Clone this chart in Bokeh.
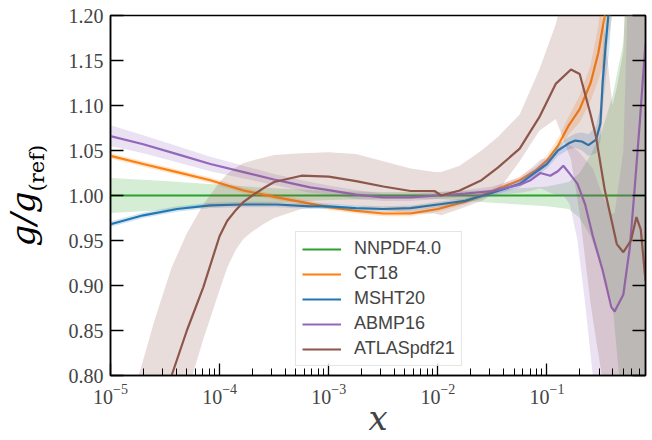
import math
from bokeh.plotting import figure
from bokeh.models import (Range1d, LogTicker, FixedTicker, PrintfTickFormatter, LinearAxis,
                          Legend, LegendItem, Title, ColumnDataSource, CustomJSTickFormatter)
from bokeh.embed import file_html
from bokeh.resources import INLINE

# ---------------- data (log10 x positions and ratios) ----------------
y_ticks = [0.80, 0.85, 0.90, 0.95, 1.00, 1.05, 1.10, 1.15, 1.20]

nn_logx = [-5, -4.5, -4, -3.5, -3, -2.5, -2, -1.5, -1.25, -1, -0.8, -0.7, -0.6, -0.5, -0.4, -0.3, -0.2, -0.097]
nn_y = [1.0] * 18
nn_lo = [0.9805, 0.984, 0.988, 0.992, 0.995, 0.996, 0.996, 0.992, 0.990, 0.988, 0.985, 0.975, 0.955, 0.92, 0.88, 0.75, 0.6, 0.5]
nn_hi = [1.0195, 1.016, 1.012, 1.008, 1.005, 1.004, 1.004, 1.006, 1.008, 1.01, 1.015, 1.025, 1.045, 1.07, 1.11, 1.17, 1.4, 1.5]

ct_logx = [-5, -4.7, -4.39, -4.085, -3.78, -3.475, -3.17, -3.0, -2.75, -2.5, -2.25, -2.0, -1.75, -1.5,
           -1.25, -1.1, -1.0, -0.9, -0.8, -0.7, -0.6, -0.53, -0.47, -0.4, -0.3, -0.2, -0.097]
ct_y = [1.044, 1.035, 1.026, 1.017, 1.0056, 0.998, 0.991, 0.987, 0.983, 0.980, 0.980, 0.985, 0.993, 1.005,
        1.017, 1.028, 1.039, 1.055, 1.078, 1.096, 1.125, 1.158, 1.20, 1.30, 1.5, 1.8, 2.2]
ct_err = [0.003, 0.003, 0.003, 0.003, 0.003, 0.003, 0.003, 0.003, 0.003, 0.003, 0.003, 0.003, 0.003, 0.003,
          0.004, 0.005, 0.006, 0.008, 0.01, 0.015, 0.02, 0.03, 0.05, 0.1, 0.2, 0.6, 0.9]

ms_logx = [-5, -4.7, -4.39, -4.085, -3.78, -3.475, -3.17, -3.0, -2.75, -2.5, -2.25, -2.0, -1.75, -1.5,
           -1.25, -1.0, -0.9, -0.8, -0.74, -0.68, -0.62, -0.55, -0.51, -0.49, -0.46, -0.43, -0.38, -0.3, -0.2, -0.097]
ms_y = [0.968, 0.978, 0.985, 0.989, 0.990, 0.990, 0.988, 0.988, 0.986, 0.985, 0.986, 0.990, 0.994, 1.003,
        1.013, 1.035, 1.050, 1.058, 1.061, 1.060, 1.056, 1.062, 1.08, 1.125, 1.17, 1.21, 1.35, 1.5, 1.8, 2.2]
ms_err = [0.003, 0.003, 0.003, 0.003, 0.003, 0.003, 0.003, 0.003, 0.003, 0.003, 0.003, 0.003, 0.003, 0.003,
          0.004, 0.005, 0.006, 0.007, 0.008, 0.01, 0.012, 0.015, 0.02, 0.03, 0.04, 0.05, 0.1, 0.2, 0.6, 0.9]

ab_logx = [-5, -4.7, -4.39, -4.085, -3.78, -3.475, -3.17, -3.0, -2.75, -2.5, -2.25, -2.0, -1.75, -1.5, -1.25,
           -1.15, -1.06, -0.97, -0.9, -0.85, -0.79, -0.72, -0.65, -0.58, -0.49, -0.41, -0.38, -0.30, -0.24,
           -0.2, -0.15, -0.097]
ab_y = [1.066, 1.057, 1.046, 1.035, 1.026, 1.017, 1.009, 1.006, 1.001, 0.998, 0.998, 1.000, 1.002, 1.005, 1.012,
        1.017, 1.025, 1.022, 1.027, 1.033, 1.024, 1.013, 0.990, 0.955, 0.917, 0.876, 0.871, 0.890, 0.943,
        1.002, 1.08, 1.17]
ab_lo = [1.055, 1.047, 1.037, 1.027, 1.019, 1.011, 1.003, 1.001, 0.996, 0.994, 0.994, 0.996, 0.998, 1.0, 1.003,
         1.005, 1.008, 1.003, 1.0, 1.0, 0.99, 0.95, 0.88, 0.80, 0.70, 0.65, 0.62, 0.6, 0.6,
         0.6, 0.6, 0.6]
ab_hi = [1.078, 1.067, 1.055, 1.043, 1.033, 1.023, 1.015, 1.011, 1.006, 1.002, 1.002, 1.004, 1.006, 1.01, 1.02,
         1.03, 1.04, 1.042, 1.05, 1.056, 1.056, 1.05, 1.04, 1.03, 1.0, 0.98, 0.98, 1.05, 1.3,
         1.4, 1.5, 1.5]

at_logx = [-5.0, -4.8, -4.6, -4.44, -4.3, -4.15, -4.0, -3.93, -3.85, -3.78, -3.7, -3.6, -3.5, -3.25, -3.0,
           -2.75, -2.5, -2.25, -2.03, -1.97, -1.8, -1.6, -1.45, -1.25, -1.07, -0.92, -0.78, -0.7, -0.6,
           -0.55, -0.47, -0.4, -0.36, -0.3, -0.23, -0.18, -0.14, -0.097]
at_y = [0.50, 0.62, 0.73, 0.80, 0.85, 0.898, 0.955, 0.972, 0.984, 0.993, 1.0, 1.008, 1.015, 1.022, 1.021,
        1.016, 1.010, 1.005, 1.005, 1.0, 1.0056, 1.017, 1.031, 1.052, 1.087, 1.124, 1.140, 1.135, 1.09,
        1.065, 1.006, 0.968, 0.946, 0.937, 0.95, 0.976, 0.962, 0.905]
at_lo = [0.38, 0.50, 0.62, 0.70, 0.78, 0.84, 0.895, 0.92, 0.94, 0.952, 0.96, 0.968, 0.975, 0.985, 0.99,
         0.988, 0.984, 0.98, 0.98, 0.978, 0.985, 0.994, 1.005, 1.038, 1.072, 1.085, 1.04, 0.98, 0.88,
         0.84, 0.78, 0.72, 0.68, 0.6, 0.6, 0.6, 0.6, 0.6]
at_hi = [0.68, 0.775, 0.86, 0.92, 0.958, 0.99, 1.015, 1.024, 1.031, 1.036, 1.039, 1.042, 1.045, 1.047, 1.048,
         1.046, 1.038, 1.03, 1.026, 1.026, 1.033, 1.05, 1.065, 1.09, 1.14, 1.19, 1.26, 1.3, 1.28,
         1.25, 1.18, 1.10, 1.12, 1.16, 1.4, 1.4, 1.4, 1.4]

series = [
    ("NNPDF4.0", "#2ca02c", nn_logx, nn_y, nn_lo, nn_hi),
    ("CT18", "#ff7f0e", ct_logx, ct_y, [a - e for a, e in zip(ct_y, ct_err)], [a + e for a, e in zip(ct_y, ct_err)]),
    ("MSHT20", "#1f77b4", ms_logx, ms_y, [a - e for a, e in zip(ms_y, ms_err)], [a + e for a, e in zip(ms_y, ms_err)]),
    ("ABMP16", "#9467bd", ab_logx, ab_y, ab_lo, ab_hi),
    ("ATLASpdf21", "#8c564b", at_logx, at_y, at_lo, at_hi),
]

# ---------------- figure ----------------
p = figure(width=652, height=440, x_axis_type="log",
           x_range=Range1d(1e-5, 0.8), y_range=Range1d(0.8, 1.2),
           output_backend="svg", toolbar_location=None,
           min_border_left=110, min_border_right=7, min_border_top=15, min_border_bottom=65)
p.grid.visible = False
p.outline_line_color = "black"
p.outline_line_width = 1.5
p.background_fill_color = "white"
p.border_fill_color = "white"

items = []
for name, color, lx, yy, lo, hi in series:
    src = ColumnDataSource(dict(x=[10 ** v for v in lx], y=yy, lo=lo, hi=hi))
    p.varea(x="x", y1="lo", y2="hi", source=src, fill_color=color, fill_alpha=0.2)
    ln = p.line("x", "y", source=src, line_color=color, line_width=2.2)
    proxy = p.line(x=[], y=[], line_color=color, line_width=10, line_alpha=0.2)
    items.append(LegendItem(label=name, renderers=[proxy, ln]))

legend = Legend(items=items, location=(185, 9), glyph_width=39, glyph_height=20,
                label_text_font="Liberation Sans", label_text_font_size="18px",
                label_standoff=13, spacing=4, padding=6, margin=0,
                border_line_color="#cccccc", border_line_width=1,
                background_fill_alpha=0.8)
p.add_layout(legend)

serif = "Liberation Serif"
xa = p.xaxis[0]
xa.ticker = LogTicker(num_minor_ticks=10)
xa.major_tick_in = 12
xa.major_tick_out = 0
xa.minor_tick_in = 7
xa.minor_tick_out = 0
xa.major_label_text_font = serif
xa.major_label_text_font_size = "20px"
xa.major_label_standoff = 8
xa.axis_line_width = 1.5
xa.major_tick_line_width = 1.3
xa.minor_tick_line_width = 1.0
xa.axis_label = "x"
xa.axis_label_text_font = "DejaVu Serif"
xa.axis_label_text_font_style = "italic"
xa.axis_label_text_font_size = "34px"
xa.axis_label_standoff = -9

ya = p.yaxis[0]
ya.ticker = FixedTicker(ticks=y_ticks)
ya.formatter = PrintfTickFormatter(format="%.2f")
ya.major_tick_in = 13
ya.major_tick_out = 0
ya.minor_tick_line_color = None
ya.major_label_text_font = serif
ya.major_label_text_font_size = "20px"
ya.major_label_standoff = 7
ya.axis_line_width = 1.5
ya.major_tick_line_width = 1.3

ra = LinearAxis(ticker=FixedTicker(ticks=y_ticks), major_tick_in=13, major_tick_out=0,
                minor_tick_line_color=None, formatter=CustomJSTickFormatter(code="return ''"),
                axis_line_width=1.5, major_tick_line_width=1.3)
p.add_layout(ra, "right")

# y-axis label g/g_(ref): two stacked titles on the left
t_ref = Title(text="(ref)", align="left", offset=184, standoff=34, vertical_align="bottom",
              text_font="DejaVu Serif", text_font_size="21px", text_font_style="normal",
              text_color="black")
t_gg = Title(text="g/g", align="left", offset=129, standoff=-75, vertical_align="bottom",
             text_font="DejaVu Serif", text_font_size="34px", text_font_style="italic",
             text_color="black")
p.add_layout(t_ref, "left")
p.add_layout(t_gg, "left")

open("out.html", "w").write(file_html(p, INLINE))
